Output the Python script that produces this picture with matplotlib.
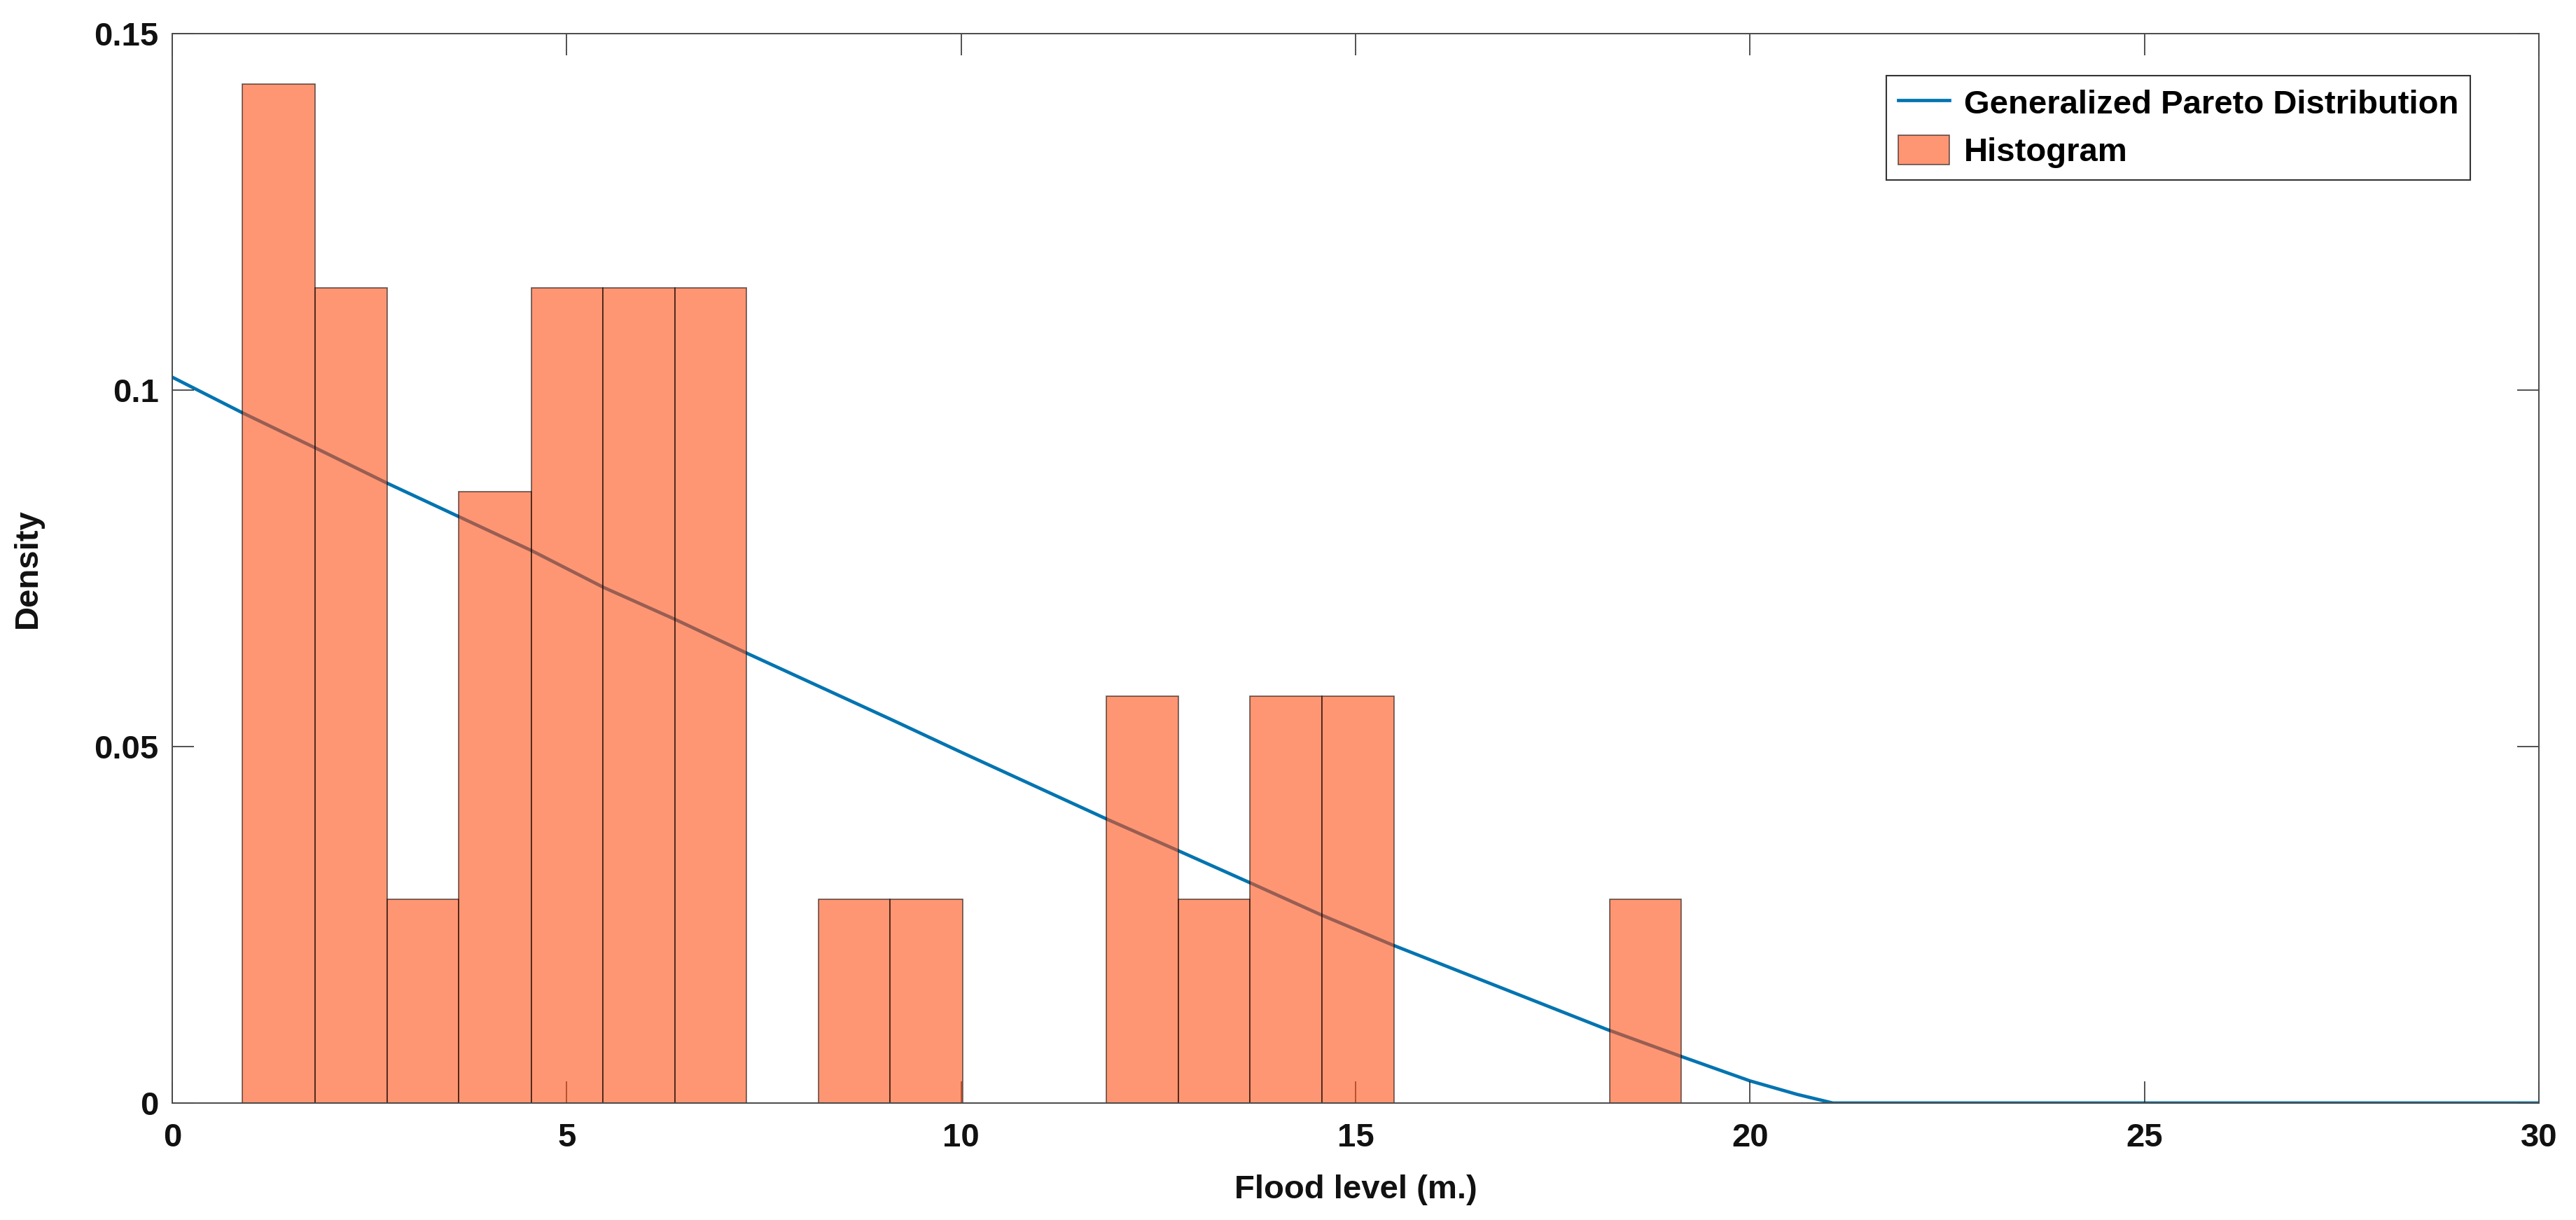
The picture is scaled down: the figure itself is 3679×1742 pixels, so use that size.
import numpy as np
from matplotlib import pyplot as plt
from matplotlib.patches import Patch
from matplotlib.lines import Line2D

# histogram bins
bin_edges = [0.89, 1.81, 2.72, 3.63, 4.55, 5.46, 6.37, 7.28, 8.19, 9.10, 10.02,
             10.93, 11.84, 12.75, 13.66, 14.57, 15.49, 16.40, 17.31, 18.22, 19.13]
density = [0.1429, 0.1143, 0.0286, 0.0857, 0.1143, 0.1143, 0.1143, 0.0, 0.0286, 0.0286,
           0.0, 0.0, 0.0571, 0.0286, 0.0571, 0.0571, 0.0, 0.0, 0.0, 0.0286]

# fitted generalized pareto pdf
gpd_x = [0, 0.89, 1.81, 2.73, 3.64, 4.55, 5.47, 6.38, 7.30, 9.13, 10.0, 11.87,
         12.79, 13.70, 14.56, 15.46, 18.19, 19.11, 20.0, 20.6, 21.05, 30]
gpd_y = [0.1018, 0.0968, 0.0919, 0.0869, 0.0822, 0.0775, 0.0723, 0.0678, 0.0630, 0.0537,
         0.0492, 0.0397, 0.0352, 0.0307, 0.0264, 0.0222, 0.0103, 0.0066, 0.0031, 0.0012,
         0.0, 0.0]

xticks = [0, 5, 10, 15, 20, 25, 30]
yticks = [0, 0.05, 0.1, 0.15]
ytick_labels = ['0', '0.05', '0.1', '0.15']

plt.rcParams['font.family'] = ['Liberation Sans', 'DejaVu Sans']
plt.rcParams['font.weight'] = 'bold'

line_col = '#0074B0'
face_col = '#FF5016'
axis_col = '#4a4a4a'

fig = plt.figure(figsize=(36.79, 17.42), dpi=100)
ax = fig.add_axes([0.0669, 0.0959, 0.9187, 0.8766])

ax.plot(gpd_x, gpd_y, color=line_col, lw=3.4, zorder=1)
edges = np.array(bin_edges)
ax.bar(edges[:-1], density, width=np.diff(edges), align='edge',
       color=face_col, edgecolor='black', linewidth=1.2, alpha=0.6, zorder=2)

ax.set_xlim(0, 30)
ax.set_ylim(0, 0.15)
ax.set_xticks(xticks)
ax.set_yticks(yticks)
ax.set_yticklabels(ytick_labels)

for s in ax.spines.values():
    s.set_color(axis_col)
    s.set_linewidth(1.4)
ax.tick_params(direction='in', top=True, right=True, length=22, width=1.1,
               color='#222222', labelsize=34, labelcolor='#111111')
ax.tick_params(axis='x', pad=20)
ax.tick_params(axis='y', pad=14)

ax.set_xlabel('Flood level (m.)', fontsize=34, fontweight='bold', labelpad=22, color='#111111')
ax.set_ylabel('Density', fontsize=34, fontweight='bold', labelpad=52, color='#111111')

handles = [Line2D([], [], color=line_col, lw=3.4),
           Patch(facecolor=face_col, edgecolor='black', alpha=0.6, linewidth=1.2)]
leg = ax.legend(handles, ['Generalized Pareto Distribution', 'Histogram'],
                loc='upper right', bbox_to_anchor=(0.959, 0.938),
                bbox_transform=fig.transFigure, fontsize=34, frameon=True,
                fancybox=False, framealpha=1, edgecolor='#333333',
                handlelength=1.55, handleheight=1.0, handletextpad=0.45,
                labelspacing=0.45, borderpad=0.35, borderaxespad=0)
leg.get_frame().set_linewidth(1.5)

plt.savefig('out.png', dpi=100)
